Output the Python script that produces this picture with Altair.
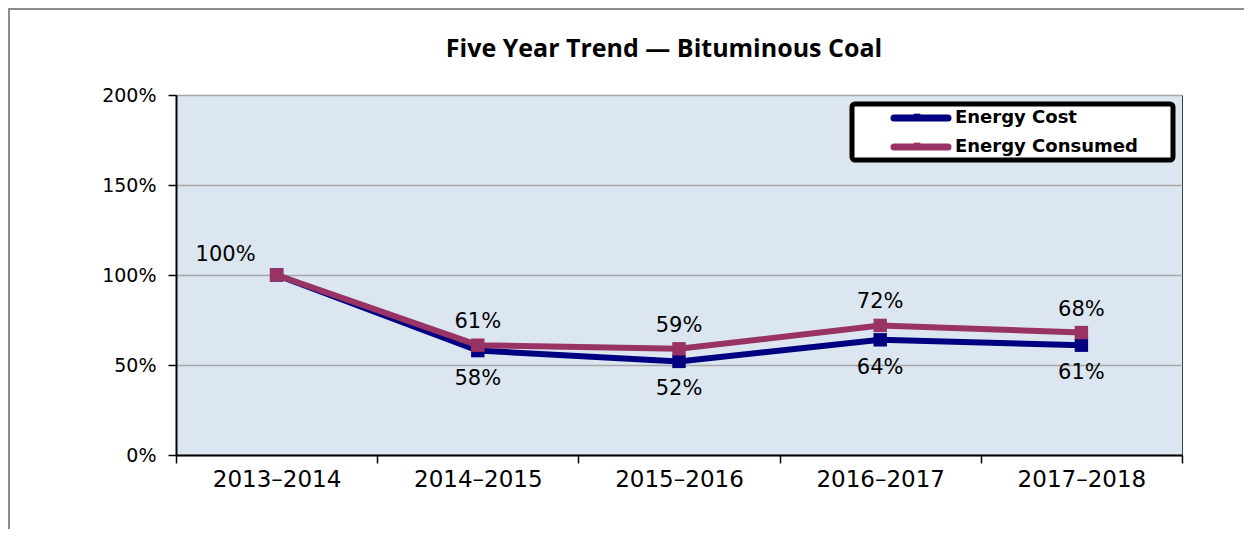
import altair as alt
import pandas as pd

years = ["2013–2014", "2014–2015", "2015–2016", "2016–2017", "2017–2018"]
energy_cost = [100, 58, 52, 64, 61]
energy_consumed = [100, 61, 59, 72, 68]
series_names = ["Energy Cost", "Energy Consumed"]
series_colors = ["#000080", "#993366"]
y_ticks = [0, 50, 100, 150, 200]
title_text = "Five Year Trend — Bituminous Coal"

rows = []
for i, yr in enumerate(years):
    rows.append({"year": yr, "series": series_names[0], "value": energy_cost[i], "idx": i})
    rows.append({"year": yr, "series": series_names[1], "value": energy_consumed[i], "idx": i})
df = pd.DataFrame(rows)
one = pd.DataFrame({"a": [0]})

W, H = 1006, 360
FONT = "DejaVu Sans"

x_enc = alt.X(
    "year:N", sort=years,
    scale=alt.Scale(type="band", domain=years, paddingInner=0, paddingOuter=0),
    bandPosition=0.5,
    axis=alt.Axis(title=None, labelAngle=0, tickBand="extent", grid=False,
                  domainColor="black", domainWidth=2, tickColor="black", tickWidth=1.5,
                  tickSize=8, labelFont=FONT, labelFontSize=23, labelColor="black",
                  labelPadding=5),
)
y_enc = alt.Y(
    "value:Q",
    scale=alt.Scale(domain=[0, 200], nice=False, zero=True),
    axis=alt.Axis(title=None, values=y_ticks, labelExpr="datum.value + '%'", grid=True,
                  gridColor="#A6A6A6", gridWidth=1.5, domainColor="black", domainWidth=2,
                  tickColor="black", tickWidth=1.5, tickSize=8, labelFont=FONT,
                  labelFontSize=19, labelColor="black", labelPadding=12),
)
color_enc = alt.Color("series:N", scale=alt.Scale(domain=series_names, range=series_colors), legend=None)

base = alt.Chart(df).encode(x=x_enc, y=y_enc, color=color_enc)

border = alt.Chart(one).mark_rect(filled=False, stroke="#8C8C8C", strokeWidth=2).encode(
    x=alt.value(-167), y=alt.value(-86), x2=alt.value(1300), y2=alt.value(700)
)

layers = [border]
for name in series_names:
    sub = base.transform_filter(alt.datum.series == name)
    layers.append(sub.mark_line(strokeWidth=6))
    layers.append(sub.mark_square(size=180, opacity=1, filled=True))

lab = base.transform_calculate(label="datum.value + '%'")
txt_props = dict(font=FONT, fontSize=21, color="black")
cons_lab = lab.transform_filter((alt.datum.series == series_names[1]) & (alt.datum.idx > 0)).mark_text(
    dy=-23, **txt_props).encode(text="label:N", color=alt.value("black"))
cons_first = lab.transform_filter((alt.datum.series == series_names[1]) & (alt.datum.idx == 0)).mark_text(
    dx=-51, dy=-20, **txt_props).encode(text="label:N", color=alt.value("black"))
cost_lab = lab.transform_filter((alt.datum.series == series_names[0]) & (alt.datum.idx > 0)).mark_text(
    dy=28, **txt_props).encode(text="label:N", color=alt.value("black"))
layers += [cons_lab, cons_first, cost_lab]

# legend box
layers.append(alt.Chart(one).mark_rect(fill="white", stroke="black", strokeWidth=5, cornerRadius=3).encode(
    x=alt.value(676), y=alt.value(9), x2=alt.value(997), y2=alt.value(65)))
for i, name in enumerate(series_names):
    yy = 23 + 29 * i
    layers.append(alt.Chart(one).mark_rule(strokeWidth=7, strokeCap="round", color=series_colors[i]).encode(
        x=alt.value(718), x2=alt.value(772), y=alt.value(yy)))
    layers.append(alt.Chart(one).mark_square(size=45, opacity=1, color=series_colors[i]).encode(
        x=alt.value(741), y=alt.value(yy - 1)))
    layers.append(alt.Chart(one).mark_text(align="left", baseline="middle", font=FONT, fontSize=18,
                                           fontWeight="bold", color="black").encode(
        x=alt.value(779), y=alt.value(yy), text=alt.value(name)))

chart = alt.layer(*layers).properties(
    width=W, height=H,
    title=alt.TitleParams(title_text, font="Open Sans", fontSize=25, fontWeight="bold", color="black",
                          anchor="middle", dx=-15, offset=38, dy=112, baseline="alphabetic"),
    autosize=alt.AutoSizeParams(type="none"),
    padding={"left": 168, "top": 87, "right": 62, "bottom": 74},
).configure_view(fill="#DCE6F1", stroke="#404040", strokeWidth=1)

chart.save("out.html", embed_options={"renderer": "svg", "actions": False})
